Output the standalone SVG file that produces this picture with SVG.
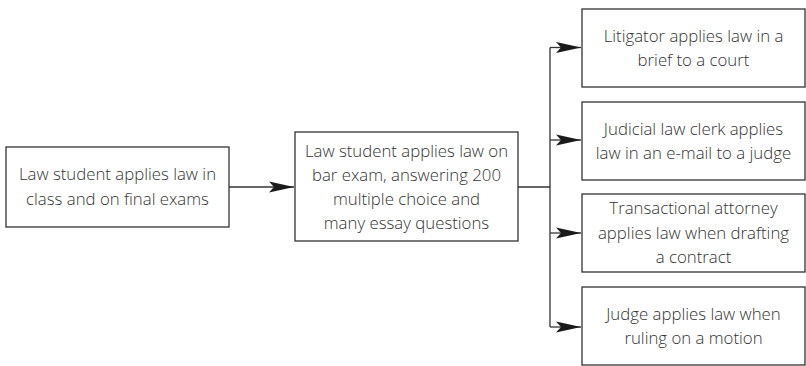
<svg xmlns="http://www.w3.org/2000/svg" width="806" height="366" viewBox="0 0 806 366">
<style>
.box{fill:#fff;stroke:#333;stroke-width:1.3}
.t{font-family:"Open Sans","Noto Sans","Liberation Sans",sans-serif;font-size:16.8px;font-weight:300;fill:#333;text-anchor:middle}
.c{fill:none;stroke:#333;stroke-width:1.3}
</style>
<defs>
<marker id="ah" viewBox="-25 -6 25 12" markerWidth="25" markerHeight="12" refX="0" refY="0" orient="auto" markerUnits="userSpaceOnUse">
<path d="M0,0 L-25,-5.5 L-20,0 L-25,5.5 Z" fill="#1a1a1a"/>
</marker>
</defs>
<g id="connectors">
<path class="c" d="M229,187 H294" marker-end="url(#ah)"/>
<path class="c" d="M518,187 H550 M550,47.5 V327"/>
<path class="c" d="M550,47.5 H581" marker-end="url(#ah)"/>
<path class="c" d="M550,140 H581" marker-end="url(#ah)"/>
<path class="c" d="M550,233 H581" marker-end="url(#ah)"/>
<path class="c" d="M550,327 H581" marker-end="url(#ah)"/>
</g>
<g id="n1">
<rect class="box" x="6" y="147" width="223" height="80"/>
<text class="t" x="117.5" y="180">Law student applies law in</text>
<text class="t" x="117.5" y="205">class and on final exams</text>
</g>
<g id="n2">
<rect class="box" x="295" y="132" width="223" height="109"/>
<text class="t" x="406.5" y="157">Law student applies law on</text>
<text class="t" x="406.5" y="181">bar exam, answering 200</text>
<text class="t" x="406.5" y="205">multiple choice and</text>
<text class="t" x="406.5" y="229">many essay questions</text>
</g>
<g id="n3">
<rect class="box" x="582" y="9" width="223" height="78"/>
<text class="t" x="693.5" y="41.5">Litigator applies law in a</text>
<text class="t" x="693.5" y="65.5">brief to a court</text>
</g>
<g id="n4">
<rect class="box" x="582" y="102" width="223" height="78"/>
<text class="t" x="693.5" y="134.5">Judicial law clerk applies</text>
<text class="t" x="693.5" y="158.5">law in an e-mail to a judge</text>
</g>
<g id="n5">
<rect class="box" x="582" y="194" width="223" height="78"/>
<text class="t" x="693.5" y="214">Transactional attorney</text>
<text class="t" x="693.5" y="239">applies law when drafting</text>
<text class="t" x="693.5" y="263">a contract</text>
</g>
<g id="n6">
<rect class="box" x="582" y="287" width="223" height="78"/>
<text class="t" x="693.5" y="320">Judge applies law when</text>
<text class="t" x="693.5" y="344">ruling on a motion</text>
</g>
</svg>
